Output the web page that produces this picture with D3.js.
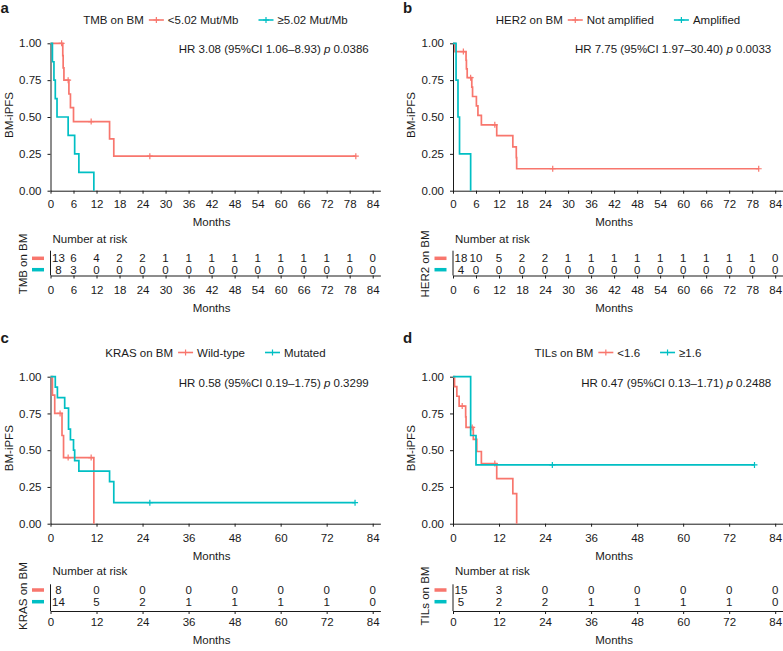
<!DOCTYPE html>
<html><head><meta charset="utf-8">
<script src="https://cdn.jsdelivr.net/npm/d3@7"></script>
<style>
body{margin:0;background:#fff}
text{font-family:"Liberation Sans",Arial,Helvetica,sans-serif;}
</style>
</head><body>
<svg id="chart" width="783" height="651"></svg>
<script>
// ---------------- DATA ----------------
const ticksSix = [0,6,12,18,24,30,36,42,48,54,60,66,72,78,84];
const ticksTwelve = [0,12,24,36,48,60,72,84];
const yTicks = [0,0.25,0.5,0.75,1];

// a: TMB
const tmbLowTimes  = [3.2,3.3,3.5,4.8,5.2,6.0,15.4,16.5];
const tmbLowSurv   = [0.917,0.833,0.75,0.656,0.563,0.469,0.352,0.234];
const tmbLowCensor = [2.9,4.6,10.6,25.9,79.6];
const tmbHighTimes = [0.5,0.9,1.25,1.7,4.6,6.3,7.4,11.3];
const tmbHighSurv  = [0.875,0.75,0.625,0.5,0.375,0.25,0.125,0];
const tmbHighCensor = [];
const tmbLowRisk  = [13,6,4,2,2,1,1,1,1,1,1,1,1,1,0];
const tmbHighRisk = [8,3,0,0,0,0,0,0,0,0,0,0,0,0,0];

// b: HER2
const herNotTimes  = [0.5,3.4,3.5,3.7,4.9,5.1,6.1,6.5,7.4,11.4,15.6,16.5,16.6];
const herNotSurv   = [0.944,0.885,0.826,0.767,0.703,0.639,0.575,0.511,0.447,0.373,0.298,0.224,0.149];
const herNotCensor = [2.7,4.6,10.9,26.0,79.7];
const herAmpTimes  = [0.8,1.3,1.7,4.6];
const herAmpSurv   = [0.75,0.5,0.25,0];
const herAmpCensor = [];
const herNotRisk = [18,10,5,2,2,1,1,1,1,1,1,1,1,1,0];
const herAmpRisk = [4,0,0,0,0,0,0,0,0,0,0,0,0,0,0];

// c: KRAS
const krasWtTimes  = [0.5,1.1,3.0,3.4,11.3];
const krasWtSurv   = [0.875,0.75,0.6,0.45,0];
const krasWtCensor = [2.5,4.6,10.6];
const krasMutTimes = [1.25,1.8,3.7,4.7,5.2,6.0,6.3,7.4,15.4,16.5];
const krasMutSurv  = [0.929,0.857,0.786,0.643,0.571,0.5,0.429,0.357,0.286,0.143];
const krasMutCensor = [25.9,79.4];
const krasWtRisk  = [8,0,0,0,0,0,0,0];
const krasMutRisk = [14,5,2,1,1,1,1,0];

// d: TILs
const tilLowTimes  = [0.4,1.0,1.6,3.3,3.4,5.3,6.2,7.4,11.4,15.6,16.6];
const tilLowSurv   = [0.933,0.867,0.8,0.727,0.655,0.573,0.491,0.409,0.307,0.205,0];
const tilLowCensor = [2.4,5.0,10.9];
const tilHighTimes = [4.6,6.0];
const tilHighSurv  = [0.6,0.4];
const tilHighCensor = [25.9,78.6];
const tilLowRisk  = [15,3,0,0,0,0,0,0];
const tilHighRisk = [5,2,2,1,1,1,1,0];

// ---------------- DRAWING ----------------
const RED = '#F8766D', TEAL = '#00BFC4', INK = '#1a1a1a';
const FS = 11.5;
const svg = d3.select('#chart');

const rows = [
  {letter:13.3, legend:24, hr:53.3, yTop:43.3, yBot:190.7, tickBase:208.3, months1:225.5,
   nar:242.5, r1:262.3, r2:273.7, rAxis:275.5, rTop:250.7, rTickBase:294, months2:311.5, rTitle:264},
  {letter:343.3, legend:356.5, hr:386.7, yTop:376.7, yBot:523.7, tickBase:541.7, months1:560,
   nar:575, r1:594, r2:605.7, rAxis:611, rTop:584.3, rTickBase:626, months2:644, rTitle:596}
];

const panels = [
  {letter:'a', row:0, col:0, title:'TMB on BM', labels:['<5.02 Mut/Mb','\u22655.02 Mut/Mb'],
   hr:'HR 3.08 (95%CI 1.06\u20138.93) ', p:'0.0386', ticks:ticksSix,
   curves:[[tmbLowTimes,tmbLowSurv,tmbLowCensor],[tmbHighTimes,tmbHighSurv,tmbHighCensor]],
   risk:[tmbLowRisk,tmbHighRisk]},
  {letter:'b', row:0, col:1, title:'HER2 on BM', labels:['Not amplified','Amplified'],
   hr:'HR 7.75 (95%CI 1.97\u201330.40) ', p:'0.0033', ticks:ticksSix,
   curves:[[herNotTimes,herNotSurv,herNotCensor],[herAmpTimes,herAmpSurv,herAmpCensor]],
   risk:[herNotRisk,herAmpRisk]},
  {letter:'c', row:1, col:0, title:'KRAS on BM', labels:['Wild-type','Mutated'],
   hr:'HR 0.58 (95%CI 0.19\u20131.75) ', p:'0.3299', ticks:ticksTwelve,
   curves:[[krasWtTimes,krasWtSurv,krasWtCensor],[krasMutTimes,krasMutSurv,krasMutCensor]],
   risk:[krasWtRisk,krasMutRisk]},
  {letter:'d', row:1, col:1, title:'TILs on BM', labels:['<1.6','\u22651.6'],
   hr:'HR 0.47 (95%CI 0.13\u20131.71) ', p:'0.2488', ticks:ticksTwelve,
   curves:[[tilLowTimes,tilLowSurv,tilLowCensor],[tilHighTimes,tilHighSurv,tilHighCensor]],
   risk:[tilLowRisk,tilHighRisk]}
];
const colors = [RED, TEAL];

function survAt(times, surv, t){
  let s = 1;
  for (let i = 0; i < times.length; i++) if (times[i] <= t) s = surv[i];
  return s;
}
function styleAxis(sel){
  sel.attr('font-size', FS).attr('font-family', '"Liberation Sans",Arial,sans-serif');
  sel.selectAll('path.domain').attr('stroke', INK).attr('stroke-width', 1);
  sel.selectAll('.tick line').attr('stroke', INK);
  sel.selectAll('.tick text').attr('fill', INK);
}
const censorPath = 'M-3,0H3M0,-3V3';

panels.forEach(p => {
  const R = rows[p.row];
  const dx = p.col ? 402.5 : 0;
  const k = 322.2 / 84;
  const x0 = 50.5 + dx;
  const x = d3.scaleLinear().domain([0, 86]).range([x0, x0 + 86 * k]);
  const y = d3.scaleLinear().domain([0, 1]).range([R.yBot, R.yTop]);
  const g = svg.append('g');

  // panel letter
  g.append('text').attr('x', 0.5 + dx).attr('y', R.letter)
    .attr('font-size', 15).attr('font-weight', 'bold').attr('fill', INK).text(p.letter);

  // legend
  const lg = g.append('g');
  let cx = 0;
  const t0 = lg.append('text').attr('x', cx).attr('y', R.legend).attr('font-size', FS).attr('fill', INK).text(p.title);
  cx += t0.node().getComputedTextLength() + 5;
  p.labels.forEach((lab, i) => {
    const ky = R.legend - 4;
    lg.append('line').attr('x1', cx).attr('x2', cx + 15).attr('y1', ky).attr('y2', ky)
      .attr('stroke', colors[i]).attr('stroke-width', 1.6);
    lg.append('path').attr('d', censorPath).attr('transform', `translate(${cx + 7.5},${ky})`)
      .attr('stroke', colors[i]).attr('stroke-width', 1.2).attr('fill', 'none');
    cx += 19;
    const t = lg.append('text').attr('x', cx).attr('y', R.legend).attr('font-size', FS).attr('fill', INK).text(lab);
    cx += t.node().getComputedTextLength() + (i === 0 ? 20 : 0);
  });
  const center = (x(0) + x(86)) / 2;
  lg.attr('transform', `translate(${center - cx / 2},0)`);

  // HR text
  const hr = g.append('text').attr('x', x(84) - 4).attr('y', R.hr).attr('text-anchor', 'end')
    .attr('font-size', FS).attr('fill', INK);
  hr.append('tspan').text(p.hr);
  hr.append('tspan').attr('font-style', 'italic').text('p');
  hr.append('tspan').text(' ' + p.p);

  // axes
  const xa = g.append('g').attr('transform', `translate(0,${R.yBot})`)
    .call(d3.axisBottom(x).tickValues(p.ticks).tickSize(3).tickSizeOuter(0)
      .tickPadding(R.tickBase - R.yBot - 3 - 0.71 * FS));
  styleAxis(xa);
  const ya = g.append('g').attr('transform', `translate(${x0},0)`)
    .call(d3.axisLeft(y).tickValues(yTicks).tickFormat(d3.format('.2f')).tickSize(3).tickSizeOuter(0).tickPadding(6));
  styleAxis(ya);

  g.append('text').attr('x', (x(0) + x(84)) / 2).attr('y', R.months1).attr('text-anchor', 'middle')
    .attr('font-size', FS).attr('fill', INK).text('Months');
  g.append('text').attr('transform', `translate(${12.5 + dx},${(R.yTop + R.yBot) / 2 - 2}) rotate(-90)`)
    .attr('text-anchor', 'middle').attr('font-size', FS).attr('fill', INK).text('BM-iPFS');

  // curves
  p.curves.forEach((c, i) => {
    const [times, surv, cens] = c;
    const pts = [[0, 1]];
    times.forEach((t, j) => pts.push([t, surv[j]]));
    const last = surv[surv.length - 1];
    const maxC = cens.length ? d3.max(cens) : 0;
    if (last > 0 && maxC > times[times.length - 1]) pts.push([maxC, last]);
    const line = d3.line().x(d => x(d[0])).y(d => y(d[1])).curve(d3.curveStepAfter);
    g.append('path').attr('d', line(pts)).attr('fill', 'none')
      .attr('stroke', colors[i]).attr('stroke-width', 1.7);
    cens.forEach(t => {
      g.append('path').attr('d', censorPath)
        .attr('transform', `translate(${x(t)},${y(survAt(times, surv, t))})`)
        .attr('stroke', colors[i]).attr('stroke-width', 1.2).attr('fill', 'none');
    });
  });

  // risk table
  g.append('text').attr('x', x0 + 2).attr('y', R.nar).attr('font-size', FS).attr('fill', INK).text('Number at risk');
  const ra = g.append('g').attr('transform', `translate(0,${R.rAxis})`)
    .call(d3.axisBottom(x).tickValues(p.ticks).tickSize(3).tickSizeOuter(0)
      .tickPadding(R.rTickBase - R.rAxis - 3 - 0.71 * FS));
  styleAxis(ra);
  g.append('line').attr('x1', x0).attr('x2', x0).attr('y1', R.rTop).attr('y2', R.rAxis)
    .attr('stroke', INK).attr('stroke-width', 1);
  g.append('text').attr('x', (x(0) + x(84)) / 2).attr('y', R.months2).attr('text-anchor', 'middle')
    .attr('font-size', FS).attr('fill', INK).text('Months');
  g.append('text').attr('transform', `translate(${26.5 + dx},${R.rTitle}) rotate(-90)`)
    .attr('text-anchor', 'middle').attr('font-size', FS).attr('fill', INK).text(p.title);
  [R.r1, R.r2].forEach((ry, i) => {
    g.append('rect').attr('x', 32 + dx).attr('y', ry - 4 - 1.75).attr('width', 12).attr('height', 3.5)
      .attr('fill', colors[i]);
    p.risk[i].forEach((n, j) => {
      const t = p.ticks[j];
      g.append('text').attr('x', x(t) + (t === 0 ? 8 : 0)).attr('y', ry).attr('text-anchor', 'middle')
        .attr('font-size', FS).attr('fill', INK).text(n);
    });
  });
});
</script>
</body></html>
